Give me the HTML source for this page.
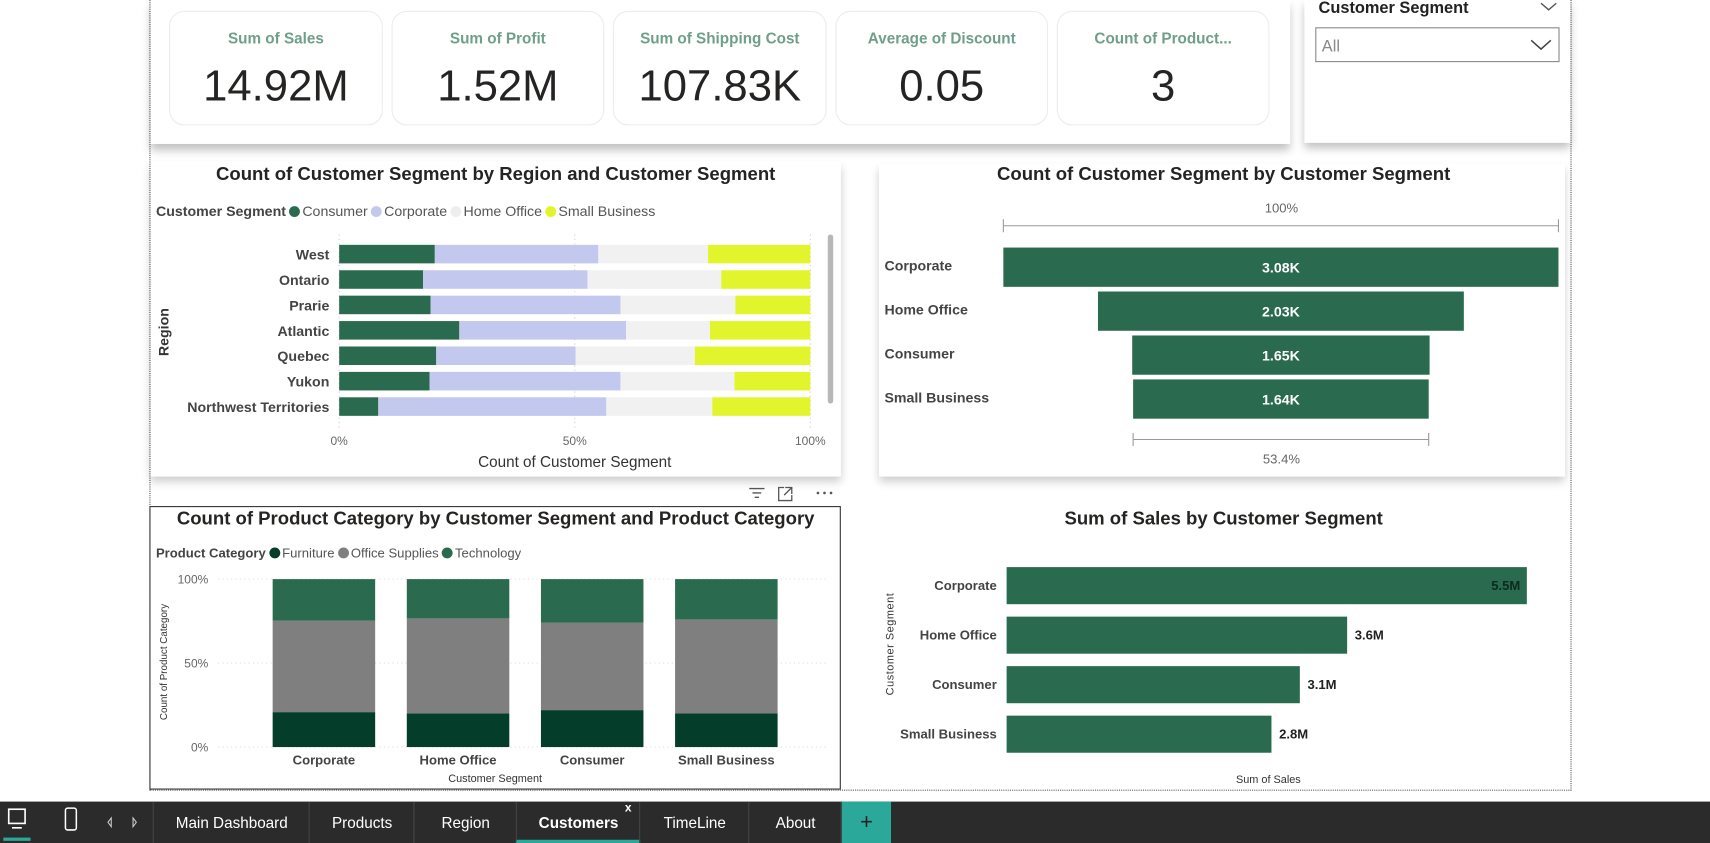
<!DOCTYPE html>
<html><head><meta charset="utf-8">
<style>
html,body{margin:0;padding:0;width:1710px;height:843px;overflow:hidden;background:#fff;font-family:"Liberation Sans",sans-serif;}
#root{position:absolute;left:0;top:0;width:1568px;height:773px;transform:scale(1.0906);transform-origin:0 0;}
.a{position:absolute;}
.card{position:absolute;top:10px;height:103px;border:1px solid #ececec;border-radius:14px;background:#fff;}
.card .l{position:absolute;top:16px;width:100%;text-align:center;color:#6f9f8a;font-size:14px;font-weight:bold;}
.card .v{position:absolute;top:46px;width:100%;text-align:center;color:#252423;font-size:40px;}
.panel{position:absolute;background:#fff;}
.title{position:absolute;font-weight:bold;color:#252423;font-size:17px;text-align:center;}
.tab{position:absolute;top:735px;height:38px;line-height:38px;color:#fff;font-size:14px;text-align:center;border-left:1px solid #444;}
.dot{display:inline-block;width:10px;height:10px;border-radius:50%;vertical-align:-1px;margin:0 2px 0 3px;}
</style></head><body>
<div id="root">
<div class="a" style="left:137px;top:-2px;width:1302px;height:726px;border-left:1px dotted #555;border-right:1px dotted #555;border-bottom:1px dotted #555;"></div>

<div class="panel" style="left:138px;top:0;width:1045px;height:132px;box-shadow:0 6px 8px rgba(0,0,0,0.25);"></div>
<div class="card" style="left:155px;width:194px;"><div class="l">Sum of Sales</div><div class="v">14.92M</div></div>
<div class="card" style="left:359px;width:193px;"><div class="l">Sum of Profit</div><div class="v">1.52M</div></div>
<div class="card" style="left:562px;width:194px;"><div class="l">Sum of Shipping Cost</div><div class="v">107.83K</div></div>
<div class="card" style="left:766px;width:193px;"><div class="l">Average of Discount</div><div class="v">0.05</div></div>
<div class="card" style="left:969px;width:193px;"><div class="l">Count of Product...</div><div class="v">3</div></div>

<div class="panel" style="left:1196px;top:0;width:244px;height:131px;box-shadow:0 5px 8px rgba(0,0,0,0.25);">
<div class="a" style="left:13px;top:-1px;font-size:15px;font-weight:bold;color:#222;">Customer Segment</div>
<svg class="a" style="left:216px;top:0" width="16" height="12"><path d="M1 3 L8 9 L15 3" fill="none" stroke="#555" stroke-width="1.3"/></svg>
<div class="a" style="left:10px;top:25px;width:222px;height:30px;border:1px solid #888;">
<span class="a" style="left:5px;top:8px;font-size:15px;color:#888;">All</span>
<svg class="a" style="left:196px;top:9px" width="20" height="12"><path d="M1 2 L10 10 L19 2" fill="none" stroke="#444" stroke-width="1.4"/></svg>
</div></div>

<div class="panel" style="left:138px;top:148px;width:633px;height:289px;box-shadow:0 5px 8px rgba(0,0,0,0.2);"></div>
<div class="title" style="left:138px;top:150px;width:633px;">Count of Customer Segment by Region and Customer Segment</div>
<div class="a" style="left:143px;top:186px;font-size:13px;color:#555;white-space:nowrap;">
<b style="color:#444">Customer Segment</b><span class="dot" style="background:#2a6b4f"></span>Consumer<span class="dot" style="background:#c3c8ee"></span>Corporate<span class="dot" style="background:#eeeeee"></span>Home Office<span class="dot" style="background:#e2f52c"></span>Small Business</div>
<div class="a" style="left:128px;top:297px;transform:rotate(-90deg);font-size:13px;font-weight:bold;color:#333;">Region</div>
<div class="a" style="left:759px;top:215px;width:5px;height:155px;background:#b8b8b8;border-radius:3px;"></div>
<svg class="a" id="c1" style="left:0;top:0" width="780" height="440"></svg>

<div class="panel" style="left:806px;top:150px;width:629px;height:287px;box-shadow:0 5px 8px rgba(0,0,0,0.2);"></div>
<div class="title" style="left:806px;top:150px;width:632px;">Count of Customer Segment by Customer Segment</div>
<svg class="a" id="c2" style="left:0;top:0" width="1440" height="440"></svg>

<div class="panel" style="left:137px;top:464px;width:632px;height:258px;border:1px solid #333;"></div>
<svg class="a" style="left:684px;top:443px" width="90" height="18">
<path d="M3 5h14M6 9h8M8 13h4" stroke="#555" stroke-width="1.2"/>
<path d="M35 4h-5v12h12v-5M36 4h6v6M42 4l-7 7" stroke="#555" stroke-width="1.2" fill="none"/>
<circle cx="66" cy="9" r="1.2" fill="#555"/><circle cx="72" cy="9" r="1.2" fill="#555"/><circle cx="78" cy="9" r="1.2" fill="#555"/></svg>
<div class="title" style="left:138px;top:466px;width:633px;">Count of Product Category by Customer Segment and Product Category</div>
<div class="a" style="left:143px;top:500px;font-size:12px;color:#555;white-space:nowrap;">
<b style="color:#444">Product Category</b><span class="dot" style="background:#053d2b"></span>Furniture<span class="dot" style="background:#7f7f7f"></span>Office Supplies<span class="dot" style="background:#2a6b4f"></span>Technology</div>
<div class="a" style="left:90px;top:602px;transform:rotate(-90deg);font-size:9px;color:#333;width:120px;text-align:center;">Count of Product Category</div>
<svg class="a" id="c3" style="left:0;top:0" width="780" height="730"></svg>

<div class="panel" style="left:806px;top:464px;width:632px;height:260px;"></div>
<div class="title" style="left:806px;top:466px;width:632px;">Sum of Sales by Customer Segment</div>
<div class="a" style="left:757px;top:585px;transform:rotate(-90deg);font-size:10px;color:#333;width:120px;text-align:center;letter-spacing:0.5px;">Customer Segment</div>
<svg class="a" id="c4" style="left:0;top:0" width="1440" height="730"></svg>

<div class="a" style="left:0;top:735px;width:1568px;height:38px;background:#2b2b2b;"></div>
<svg class="a" style="left:0;top:735px" width="140" height="38">
<rect x="8" y="7" width="15" height="13" fill="none" stroke="#fff" stroke-width="1.5"/><path d="M11 24h9" stroke="#fff" stroke-width="1.5"/>
<rect x="3" y="33" width="25" height="3" fill="#2aa89a"/>
<rect x="60" y="6" width="10" height="20" rx="2" fill="none" stroke="#fff" stroke-width="1.4"/>
<path d="M102 15l-3 4 3 4z" fill="none" stroke="#ccc"/><path d="M122 15l3 4-3 4z" fill="none" stroke="#ccc"/></svg>
<div class="tab" style="left:140px;width:143px;">Main Dashboard</div>
<div class="tab" style="left:283px;width:96px;">Products</div>
<div class="tab" style="left:379px;width:94px;">Region</div>
<div class="tab" style="left:473px;width:113px;font-weight:bold;border-bottom:3px solid #2aa89a;height:35px;">Customers<span style="position:absolute;left:99px;top:-13px;font-size:11px;">x</span></div>
<div class="tab" style="left:586px;width:100px;">TimeLine</div>
<div class="tab" style="left:686px;width:85px;">About</div>
<div class="tab" style="left:771px;width:45px;background:#2aa89a;color:#222;font-size:20px;">+</div>
</div>
<script>
const regions=["West","Ontario","Prarie","Atlantic","Quebec","Yukon","Northwest Territories"];
const consumerPct=[20.3,17.8,19.4,25.5,20.6,19.2,8.3];
const corporatePct=[34.7,34.9,40.3,35.4,29.6,40.5,48.4];
const homeOfficePct=[23.3,28.4,24.4,17.8,25.3,24.2,22.5];
const smallBizPct=[21.7,18.9,15.9,21.3,24.5,16.1,20.8];
const pctTicks=["0%","50%","100%"];
const funnelCats=["Corporate","Home Office","Consumer","Small Business"];
const funnelVals=[3.08,2.03,1.65,1.64];
const funnelLabels=["3.08K","2.03K","1.65K","1.64K"];
const funnelPctLabels=["100%","53.4%"];
const prodCats=["Corporate","Home Office","Consumer","Small Business"];
const furniturePct=[20.8,20.1,22,20];
const officePct=[54.5,56.5,52,56];
const techPct=[24.7,23.4,26,24];
const salesCats=["Corporate","Home Office","Consumer","Small Business"];
const salesVals=[5.5,3.6,3.1,2.8];
const salesLabels=["5.5M","3.6M","3.1M","2.8M"];

const NS="http://www.w3.org/2000/svg";
function mk(svg,tag,attrs,text){const e=document.createElementNS(NS,tag);for(const k in attrs)e.setAttribute(k,attrs[k]);if(text!==undefined)e.textContent=text;svg.appendChild(e);return e;}
const F='"Liberation Sans",sans-serif';

(function(){const s=document.getElementById('c1');
const x0=311,x1=743,xs=p=>x0+(x1-x0)*p/100;const y0=233,dy=23.3,h=17;
[0,50,100].forEach((p,i)=>{mk(s,'line',{x1:xs(p),x2:xs(p),y1:215,y2:392,stroke:'#ccc','stroke-dasharray':'1,3'});
const t=mk(s,'text',{x:xs(p),y:408,'text-anchor':'middle','font-size':11,fill:'#666','font-family':F},pctTicks[i]);

});
const cols=['#2a6b4f','#c3c8ee','#f1f1f1','#e2f52c'];const ser=[consumerPct,corporatePct,homeOfficePct,smallBizPct];
regions.forEach((r,i)=>{const yc=y0+i*dy;let acc=0;const tot=ser.reduce((a,s2)=>a+s2[i],0);
ser.forEach((sr,j)=>{const v=sr[i]/tot*100;const b=mk(s,'rect',{x:xs(acc),y:yc-h/2,width:xs(acc+v)-xs(acc),height:h,fill:cols[j]});

acc+=v;});
const t=mk(s,'text',{x:302,y:yc+5,'text-anchor':'end','font-size':13,'font-weight':'bold',fill:'#444','font-family':F},r);

});
const xt=mk(s,'text',{x:527,y:428,'text-anchor':'middle','font-size':14,fill:'#333','font-family':F},'Count of Customer Segment');


})();

(function(){const s=document.getElementById('c2');const cx=1174.5,maxW=509,sc=maxW/funnelVals[0];
mk(s,'text',{x:1175,y:195,'text-anchor':'middle','font-size':12,fill:'#666','font-family':F},funnelPctLabels[0]);
mk(s,'path',{d:'M920 201v12M920 207H1429M1429 201v12',stroke:'#999',fill:'none'});
funnelCats.forEach((c,i)=>{const w=funnelVals[i]*sc;const y=227+i*40.3;
const b=mk(s,'rect',{x:cx-w/2,y:y,width:w,height:36,fill:'#2a6b4f'});


mk(s,'text',{x:cx,y:y+23,'text-anchor':'middle','font-size':13,'font-weight':'bold',fill:'#fff','font-family':F},funnelLabels[i]);
const t=mk(s,'text',{x:811,y:y+21,'font-size':13,'font-weight':'bold',fill:'#444','font-family':F},c);

});
const wl=funnelVals[funnelVals.length-1]*sc;
mk(s,'path',{d:`M${cx-wl/2} 397v12M${cx-wl/2} 403H${cx+wl/2}M${cx+wl/2} 397v12`,stroke:'#999',fill:'none'});
mk(s,'text',{x:1175,y:425,'text-anchor':'middle','font-size':12,fill:'#666','font-family':F},funnelPctLabels[1]);
})();

(function(){const s=document.getElementById('c3');const yb=685,yt=531,ys=p=>yb-(yb-yt)*p/100;
[[0,'0%'],[50,'50%'],[100,'100%']].forEach(([p,l])=>{mk(s,'line',{x1:200,x2:760,y1:ys(p),y2:ys(p),stroke:'#ddd','stroke-dasharray':'1,3'});
mk(s,'text',{x:191,y:ys(p)+4,'text-anchor':'end','font-size':11,fill:'#666','font-family':F},l);});
const cols=['#053d2b','#7f7f7f','#2a6b4f'];const ser=[furniturePct,officePct,techPct];
prodCats.forEach((c,i)=>{const cx=297+i*123;let acc=0;const tot=ser.reduce((a,s2)=>a+s2[i],0);
ser.forEach((sr,j)=>{const v=sr[i]/tot*100;const b=mk(s,'rect',{x:cx-47,y:ys(acc+v),width:94,height:ys(acc)-ys(acc+v),fill:cols[j]});

acc+=v;});
const t=mk(s,'text',{x:cx,y:701,'text-anchor':'middle','font-size':12,'font-weight':'bold',fill:'#444','font-family':F},c);

});
mk(s,'text',{x:454,y:717,'text-anchor':'middle','font-size':10,fill:'#333','font-family':F},'Customer Segment');
})();

(function(){const s=document.getElementById('c4');const x0=923,xs=v=>x0+v*(1400-x0)/5.5;
salesCats.forEach((c,i)=>{const y=520+i*45.4;const w=xs(salesVals[i])-x0;
const b=mk(s,'rect',{x:x0,y:y,width:w,height:34,fill:'#2a6b4f'});


const inside=i===0;mk(s,'text',{x:inside?xs(salesVals[i])-6:xs(salesVals[i])+7,y:y+21,'text-anchor':inside?'end':'start','font-size':12,'font-weight':'bold',fill:inside?'#0d2a1e':'#222','font-family':F},salesLabels[i]);
const t=mk(s,'text',{x:914,y:y+21,'text-anchor':'end','font-size':12,'font-weight':'bold',fill:'#444','font-family':F},c);

});
mk(s,'text',{x:1163,y:718,'text-anchor':'middle','font-size':10,fill:'#333','font-family':F},'Sum of Sales');
})();
</script>
</body></html>
